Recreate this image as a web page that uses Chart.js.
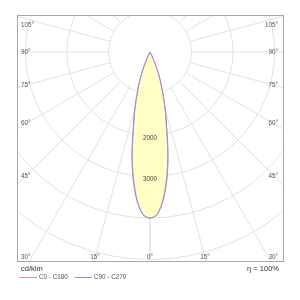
<!DOCTYPE html>
<html><head><meta charset="utf-8">
<script src="https://cdn.jsdelivr.net/npm/chart.js@4/dist/chart.umd.min.js"></script>
<style>html,body{margin:0;padding:0;background:#fff}</style>
</head><body>
<canvas id="c" width="300" height="300" style="width:300px;height:300px;display:block"></canvas>
<script>
// gamma angles (deg) and luminous intensity (cd/klm)
const gammaAngles      = [0, 2.5, 5, 7.5, 10, 12.5, 15, 17.5, 20, 22.5, 25, 27.5, 30, 35, 40, 50, 60, 70, 80, 90];
const intensityC0C180  = [4000, 3910, 3570, 3060, 2460, 1820, 1390, 1000, 700, 420, 190, 70, 20, 5, 0, 0, 0, 0, 0, 0];
const intensityC90C270 = [4000, 3925, 3600, 3110, 2510, 1860, 1420, 1020, 715, 430, 195, 72, 20, 5, 0, 0, 0, 0, 0, 0];
const seriesNames  = ['C0 - C180', 'C90 - C270'];
const ringValues   = [1000, 2000, 3000, 4000, 5000, 6000, 7000];
const ringLabels   = [2000, 3000];
const spokeAngles  = [0, 15, 30, 45, 60, 75, 90, 105, 120, 135, 150, 165, 180];
const angleLabels  = [105, 90, 75, 60, 45, 30, 15, 0];
const unitLabel    = 'cd/klm';
const efficiencyLabel = 'η = 100%';

function polarPoints(angles, values) {
  const pts = [];
  for (let i = angles.length - 1; i >= 1; i--) {
    const t = -angles[i] * Math.PI / 180;
    pts.push({x: values[i] * Math.sin(t), y: -values[i] * Math.cos(t)});
  }
  for (let i = 0; i < angles.length; i++) {
    const t = angles[i] * Math.PI / 180;
    pts.push({x: values[i] * Math.sin(t), y: -values[i] * Math.cos(t)});
  }
  return pts;
}

const FONT = '"Liberation Sans", Arial, sans-serif';
const GRID = '#e2e2e2';
const RED = '#e88a8a';
const BLUE = '#8f8fe6';
const FILL = 'rgba(255,255,190,0.88)';

const polarPlugin = {
  id: 'polarGrid',
  beforeDatasetsDraw(chart) {
    const {ctx, chartArea: a, scales: {x, y}} = chart;
    const cx = x.getPixelForValue(0), cy = y.getPixelForValue(0);
    const k = x.getPixelForValue(1) - cx;
    ctx.save();
    ctx.beginPath();
    ctx.rect(a.left, a.top, a.right - a.left, a.bottom - a.top);
    ctx.clip();
    ctx.strokeStyle = GRID;
    ctx.lineWidth = 1;
    ringValues.forEach(v => {
      ctx.beginPath();
      ctx.arc(cx, cy, v * k, 0, Math.PI * 2);
      ctx.stroke();
    });
    const r0 = ringValues[0] * k, r1 = 2000;
    spokeAngles.forEach(g => {
      [-1, 1].forEach(s => {
        const t = g * Math.PI / 180;
        const dx = s * Math.sin(t), dy = Math.cos(t);
        ctx.beginPath();
        ctx.moveTo(cx + dx * r0, cy + dy * r0);
        ctx.lineTo(cx + dx * r1, cy + dy * r1);
        ctx.stroke();
      });
    });
    // yellow fill following the smoothed outline of series C0-C180
    const pts = chart.getDatasetMeta(1).data;
    ctx.beginPath();
    pts.forEach((p, i) => {
      if (i === 0) { ctx.moveTo(p.x, p.y); return; }
      const q = pts[i - 1];
      if (q.cp2x !== undefined && p.cp1x !== undefined) ctx.bezierCurveTo(q.cp2x, q.cp2y, p.cp1x, p.cp1y, p.x, p.y);
      else ctx.lineTo(p.x, p.y);
    });
    ctx.closePath();
    ctx.fillStyle = FILL;
    ctx.fill();
    ctx.restore();
  },
  afterDatasetsDraw(chart) {
    const {ctx, scales: {x, y}} = chart;
    const cx = x.getPixelForValue(0), cy = y.getPixelForValue(0);
    const k = x.getPixelForValue(1) - cx;
    ctx.save();
    ctx.font = '6.3px ' + FONT;
    ctx.fillStyle = '#444';
    ctx.textAlign = 'center';
    ctx.textBaseline = 'middle';
    ringLabels.forEach(v => ctx.fillText(String(v), cx, cy + v * k + 3));
    ctx.restore();
  },
  afterDraw(chart) {
    const {ctx, chartArea: a, scales: {x, y}} = chart;
    const cx = x.getPixelForValue(0), cy = y.getPixelForValue(0);
    ctx.save();
    ctx.strokeStyle = '#a8a8a8';
    ctx.lineWidth = 1;
    ctx.strokeRect(a.left + 0.5, a.top + 0.5, a.right - a.left - 1, a.bottom - a.top - 1);
    // angle labels
    ctx.font = '6.3px ' + FONT;
    ctx.fillStyle = '#555';
    ctx.textBaseline = 'middle';
    const L = a.left + 9, R = a.right - 10, T = a.top + 10, B = a.bottom - 5;
    angleLabels.forEach(g => {
      const sides = g === 0 ? [1] : [-1, 1];
      sides.forEach(s => {
        const t = g * Math.PI / 180;
        const dx = s * Math.sin(t), dy = Math.cos(t);
        const sx = s < 0 ? L : R;
        const ts = dx !== 0 ? (sx - cx) / dx : Infinity;
        const tb = dy > 0 ? (B - cy) / dy : Infinity;
        const txt = g + '°';
        if (ts < tb || (tb !== Infinity && Math.abs(cx + dx * tb - sx) < 10)) {
          let yy = ts < tb ? cy + dy * ts : B;
          yy = Math.max(T, Math.min(B, yy));
          if (s < 0) { ctx.textAlign = 'left'; ctx.fillText(txt, a.left + 4, yy); }
          else { ctx.textAlign = 'right'; ctx.fillText(txt, a.right - 6, yy); }
        } else {
          ctx.textAlign = 'center';
          ctx.fillText(txt, cx + dx * tb, B);
        }
      });
    });
    // unit + efficiency
    ctx.font = '7.5px ' + FONT;
    ctx.fillStyle = '#333';
    ctx.textAlign = 'left';
    ctx.fillText(unitLabel, 21, 269);
    ctx.textAlign = 'right';
    ctx.fillText(efficiencyLabel, 279, 269);
    // legend
    ctx.font = '6.3px ' + FONT;
    ctx.textAlign = 'left';
    ctx.fillStyle = '#555';
    const items = [[19, 37, 39], [75, 92, 94]];
    chart.data.datasets.forEach(ds => {
      const [x0, x1, tx] = items[seriesNames.indexOf(ds.label)];
      ctx.strokeStyle = ds.borderColor;
      ctx.beginPath(); ctx.moveTo(x0, 277.5); ctx.lineTo(x1, 277.5); ctx.stroke();
      ctx.fillText(ds.label, tx, 277.5);
    });
    ctx.restore();
  }
};

new Chart(document.getElementById('c'), {
  type: 'scatter',
  data: {
    datasets: [
      {label: seriesNames[1], data: polarPoints(gammaAngles, intensityC90C270), showLine: true, borderColor: BLUE, borderWidth: 1, pointRadius: 0, tension: 0.3, fill: false},
      {label: seriesNames[0], data: polarPoints(gammaAngles, intensityC0C180), showLine: true, borderColor: RED, borderWidth: 1, pointRadius: 0, tension: 0.3, fill: false}
    ]
  },
  options: {
    responsive: false,
    animation: false,
    devicePixelRatio: 1,
    layout: {padding: {left: 17, top: 15, right: 16, bottom: 38}},
    scales: {
      x: {type: 'linear', min: -3205, max: 3229, display: false},
      y: {type: 'linear', min: -5060, max: 892, display: false}
    },
    plugins: {legend: {display: false}, tooltip: {enabled: false}}
  },
  plugins: [polarPlugin]
});
</script>
</body></html>
